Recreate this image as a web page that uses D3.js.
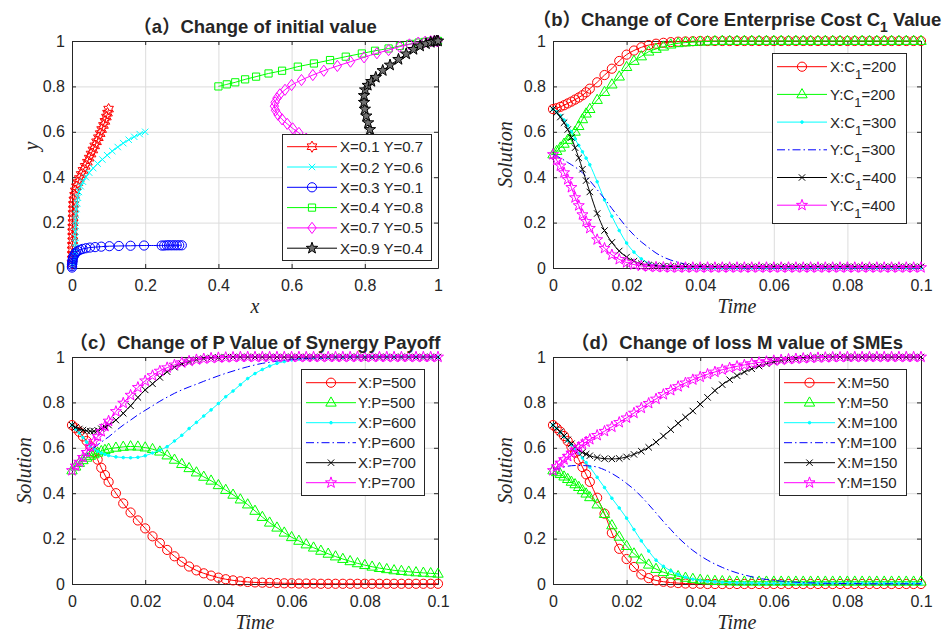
<!DOCTYPE html>
<html>
<head>
<meta charset="utf-8">
<script src="https://cdn.jsdelivr.net/npm/d3@7"></script>
<style>
  body { margin: 0; background: #fff; }
  svg text { font-family: "Liberation Sans", Arial, "Noto Sans CJK SC", sans-serif; fill: #262626; }
</style>
</head>
<body>
<svg id="chart" width="950" height="633"></svg>
<script>
// time samples shared by panels b, c, d
const time = [
  0, 0.001, 0.002, 0.003, 0.004, 0.005, 0.006, 0.007, 0.008, 0.009, 0.010,
  0.012, 0.014, 0.016, 0.018, 0.020, 0.022, 0.024, 0.026, 0.028, 0.030,
  0.032, 0.034, 0.036, 0.038, 0.040, 0.042, 0.044, 0.046, 0.048, 0.050,
  0.052, 0.054, 0.056, 0.058, 0.060, 0.062, 0.064, 0.066, 0.068, 0.070,
  0.072, 0.074, 0.076, 0.078, 0.080, 0.082, 0.084, 0.086, 0.088, 0.090,
  0.092, 0.094, 0.096, 0.098, 0.100];

const xTicksA = [0, 0.2, 0.4, 0.6, 0.8, 1];
const xTicksT = [0, 0.02, 0.04, 0.06, 0.08, 0.1];
const yTicks = [0, 0.2, 0.4, 0.6, 0.8, 1];

// (a) trajectories in the x-y plane
const aX1 = [0.100, 0.097, 0.094, 0.090, 0.086, 0.081, 0.077, 0.072, 0.067, 0.062, 0.057, 0.052, 0.047, 0.042, 0.036, 0.030, 0.025, 0.020, 0.016, 0.012, 0.009, 0.007, 0.005, 0.004, 0.004, 0.003, 0.003, 0.003, 0.002, 0.002, 0.002, 0.002, 0.001, 0.001, 0.001, 0.001, 0.000];
const aY1 = [0.700, 0.682, 0.665, 0.646, 0.628, 0.610, 0.592, 0.574, 0.556, 0.538, 0.520, 0.502, 0.484, 0.466, 0.448, 0.430, 0.412, 0.394, 0.376, 0.358, 0.340, 0.320, 0.300, 0.280, 0.260, 0.240, 0.220, 0.200, 0.180, 0.160, 0.140, 0.120, 0.100, 0.080, 0.060, 0.040, 0.020];
const aX2 = [0.200, 0.185, 0.170, 0.155, 0.140, 0.125, 0.110, 0.096, 0.083, 0.070, 0.058, 0.047, 0.038, 0.030, 0.024, 0.019, 0.016, 0.014, 0.012, 0.011, 0.010, 0.010, 0.009, 0.009, 0.009, 0.008, 0.008, 0.007, 0.006, 0.005, 0.004, 0.003];
const aY2 = [0.600, 0.590, 0.578, 0.565, 0.550, 0.533, 0.515, 0.497, 0.478, 0.460, 0.440, 0.420, 0.400, 0.380, 0.360, 0.335, 0.310, 0.285, 0.260, 0.235, 0.210, 0.185, 0.160, 0.135, 0.110, 0.090, 0.070, 0.055, 0.040, 0.030, 0.020, 0.010];
const aX3 = [0.300, 0.293, 0.286, 0.279, 0.272, 0.265, 0.259, 0.252, 0.245, 0.197, 0.160, 0.128, 0.102, 0.080, 0.063, 0.049, 0.038, 0.029, 0.022, 0.016, 0.011, 0.008, 0.005, 0.003, 0.002, 0.001, 0.001, 0.000, 0.000, 0.000];
const aY3 = [0.100, 0.100, 0.100, 0.100, 0.100, 0.100, 0.100, 0.099, 0.099, 0.099, 0.098, 0.097, 0.096, 0.094, 0.092, 0.090, 0.087, 0.084, 0.080, 0.075, 0.069, 0.062, 0.054, 0.046, 0.038, 0.030, 0.022, 0.015, 0.008, 0.002];
const aX4 = [0.400, 0.423, 0.446, 0.473, 0.503, 0.537, 0.574, 0.617, 0.661, 0.705, 0.748, 0.792, 0.828, 0.865, 0.896, 0.924, 0.947, 0.965, 0.978, 0.987, 0.993, 0.997, 0.999, 1.000];
const aY4 = [0.800, 0.809, 0.818, 0.831, 0.843, 0.857, 0.869, 0.887, 0.901, 0.916, 0.931, 0.945, 0.957, 0.967, 0.978, 0.987, 0.993, 0.996, 0.998, 0.999, 1.000, 1.000, 1.000, 1.000];
const aX5 = [0.700, 0.680, 0.660, 0.640, 0.620, 0.603, 0.588, 0.574, 0.563, 0.556, 0.553, 0.555, 0.560, 0.568, 0.582, 0.600, 0.627, 0.658, 0.688, 0.725, 0.761, 0.798, 0.833, 0.865, 0.895, 0.922, 0.946, 0.965, 0.980, 0.990, 0.996, 1.000];
const aY5 = [0.500, 0.520, 0.545, 0.570, 0.595, 0.615, 0.635, 0.655, 0.675, 0.695, 0.713, 0.730, 0.748, 0.765, 0.785, 0.806, 0.828, 0.850, 0.869, 0.890, 0.909, 0.928, 0.946, 0.960, 0.975, 0.985, 0.993, 0.997, 0.999, 1.000, 1.000, 1.000];
const aX6 = [0.900, 0.880, 0.862, 0.848, 0.836, 0.826, 0.820, 0.814, 0.809, 0.804, 0.800, 0.798, 0.798, 0.801, 0.808, 0.818, 0.830, 0.849, 0.869, 0.892, 0.913, 0.933, 0.951, 0.967, 0.980, 0.990, 0.996, 1.000];
const aY6 = [0.400, 0.430, 0.460, 0.490, 0.520, 0.550, 0.580, 0.610, 0.640, 0.670, 0.700, 0.730, 0.760, 0.785, 0.805, 0.822, 0.840, 0.870, 0.894, 0.919, 0.943, 0.963, 0.978, 0.988, 0.994, 0.998, 1.000, 1.000];
const aLabels = ["X=0.1 Y=0.7", "X=0.2 Y=0.6", "X=0.3 Y=0.1", "X=0.4 Y=0.8", "X=0.7 Y=0.5", "X=0.9 Y=0.4"];

// (b) core enterprise cost C1
const bX200 = [
  0.700, 0.704, 0.710, 0.717, 0.725, 0.733, 0.742, 0.751, 0.761, 0.774, 0.790,
  0.818, 0.850, 0.878, 0.912, 0.940, 0.958, 0.972, 0.982, 0.988, 0.992,
  0.995, 0.997, 0.998, 0.999, 1, 1, 1, 1, 1, 1,
  1, 1, 1, 1, 1, 1, 1, 1, 1, 1,
  1, 1, 1, 1, 1, 1, 1, 1, 1, 1,
  1, 1, 1, 1, 1];
const bY200 = [
  0.500, 0.515, 0.530, 0.547, 0.564, 0.582, 0.600, 0.625, 0.655, 0.680, 0.700,
  0.740, 0.775, 0.808, 0.843, 0.885, 0.912, 0.932, 0.953, 0.965, 0.975,
  0.984, 0.990, 0.993, 0.995, 0.997, 0.998, 0.999, 1, 1, 1,
  1, 1, 1, 1, 1, 1, 1, 1, 1, 1,
  1, 1, 1, 1, 1, 1, 1, 1, 1, 1,
  1, 1, 1, 1, 1];
const bX300 = [
  0.700, 0.688, 0.672, 0.652, 0.628, 0.600, 0.568, 0.540, 0.512, 0.484, 0.455,
  0.380, 0.300, 0.228, 0.165, 0.110, 0.070, 0.040, 0.022, 0.012, 0.007,
  0.004, 0.002, 0.001, 0, 0, 0, 0, 0, 0, 0,
  0, 0, 0, 0, 0, 0, 0, 0, 0, 0,
  0, 0, 0, 0, 0, 0, 0, 0, 0, 0,
  0, 0, 0, 0, 0];
const bY300 = [
  0.500, 0.493, 0.485, 0.475, 0.465, 0.455, 0.445, 0.433, 0.420, 0.403, 0.385,
  0.345, 0.305, 0.262, 0.220, 0.180, 0.145, 0.115, 0.090, 0.066, 0.048,
  0.035, 0.025, 0.017, 0.011, 0.007, 0.005, 0.003, 0.002, 0.001, 0,
  0, 0, 0, 0, 0, 0, 0, 0, 0, 0,
  0, 0, 0, 0, 0, 0, 0, 0, 0, 0,
  0, 0, 0, 0, 0];
const bX400 = [
  0.700, 0.685, 0.665, 0.640, 0.610, 0.575, 0.530, 0.485, 0.435, 0.385, 0.335,
  0.240, 0.165, 0.113, 0.075, 0.048, 0.030, 0.019, 0.013, 0.010, 0.008,
  0.007, 0.006, 0.006, 0.005, 0.005, 0.005, 0.005, 0.005, 0.005, 0.005,
  0.005, 0.005, 0.005, 0.005, 0.005, 0.005, 0.005, 0.005, 0.005, 0.005,
  0.005, 0.005, 0.005, 0.005, 0.005, 0.005, 0.005, 0.005, 0.005, 0.005,
  0.005, 0.005, 0.005, 0.005, 0.005];
const bY400 = [
  0.500, 0.475, 0.450, 0.420, 0.390, 0.355, 0.310, 0.275, 0.235, 0.205, 0.175,
  0.125, 0.087, 0.058, 0.038, 0.024, 0.015, 0.009, 0.006, 0.004, 0.003,
  0.002, 0.002, 0.002, 0.002, 0.002, 0.002, 0.002, 0.002, 0.002, 0.002,
  0.002, 0.002, 0.002, 0.002, 0.002, 0.002, 0.002, 0.002, 0.002, 0.002,
  0.002, 0.002, 0.002, 0.002, 0.002, 0.002, 0.002, 0.002, 0.002, 0.002,
  0.002, 0.002, 0.002, 0.002, 0.002];
const bLabels = ["X:C_1=200", "Y:C_1=200", "X:C_1=300", "Y:C_1=300", "X:C_1=400", "Y:C_1=400"];

// (c) synergy payoff P
const cX500 = [
  0.700, 0.686, 0.670, 0.650, 0.630, 0.607, 0.580, 0.548, 0.512, 0.480, 0.450,
  0.400, 0.355, 0.315, 0.280, 0.245, 0.210, 0.180, 0.150, 0.122, 0.098,
  0.077, 0.060, 0.047, 0.037, 0.028, 0.021, 0.016, 0.012, 0.009, 0.007,
  0.006, 0.005, 0.004, 0.003, 0.003, 0.002, 0.002, 0.002, 0.001, 0.001,
  0.001, 0.001, 0.001, 0.001, 0.001, 0.001, 0.001, 0.001, 0.001, 0.001,
  0.001, 0.001, 0.001, 0.001, 0.001];
const cY500 = [
  0.500, 0.517, 0.533, 0.545, 0.556, 0.564, 0.571, 0.578, 0.585, 0.590, 0.595,
  0.600, 0.604, 0.606, 0.605, 0.601, 0.594, 0.583, 0.566, 0.547, 0.528,
  0.510, 0.491, 0.472, 0.455, 0.435, 0.414, 0.393, 0.372, 0.350, 0.322,
  0.295, 0.270, 0.248, 0.226, 0.206, 0.190, 0.174, 0.160, 0.146, 0.133,
  0.121, 0.110, 0.100, 0.091, 0.083, 0.076, 0.070, 0.065, 0.060, 0.057,
  0.054, 0.051, 0.049, 0.047, 0.045];
const cX600 = [
  0.700, 0.682, 0.665, 0.645, 0.625, 0.608, 0.595, 0.585, 0.577, 0.571, 0.566,
  0.560, 0.557, 0.556, 0.558, 0.565, 0.577, 0.590, 0.605, 0.630, 0.655,
  0.685, 0.712, 0.740, 0.767, 0.795, 0.825, 0.850, 0.878, 0.905, 0.927,
  0.945, 0.960, 0.972, 0.980, 0.987, 0.991, 0.994, 0.996, 0.997, 0.998,
  0.999, 0.999, 1, 1, 1, 1, 1, 1, 1, 1,
  1, 1, 1, 1, 1];
const cY600 = [
  0.500, 0.520, 0.540, 0.557, 0.572, 0.587, 0.600, 0.613, 0.625, 0.637, 0.648,
  0.675, 0.700, 0.722, 0.745, 0.765, 0.785, 0.805, 0.823, 0.840, 0.855,
  0.868, 0.880, 0.893, 0.905, 0.917, 0.928, 0.938, 0.948, 0.957, 0.965,
  0.972, 0.977, 0.982, 0.986, 0.989, 0.991, 0.993, 0.995, 0.996, 0.997,
  0.998, 0.998, 0.999, 0.999, 1, 1, 1, 1, 1, 1,
  1, 1, 1, 1, 1];
const cX700 = [
  0.700, 0.690, 0.683, 0.678, 0.675, 0.673, 0.673, 0.677, 0.684, 0.692, 0.700,
  0.722, 0.752, 0.785, 0.822, 0.855, 0.882, 0.910, 0.935, 0.955, 0.970,
  0.980, 0.988, 0.993, 0.996, 0.998, 0.999, 1, 1, 1, 1,
  1, 1, 1, 1, 1, 1, 1, 1, 1, 1,
  1, 1, 1, 1, 1, 1, 1, 1, 1, 1,
  1, 1, 1, 1, 1];
const cY700 = [
  0.500, 0.520, 0.537, 0.558, 0.580, 0.605, 0.628, 0.650, 0.672, 0.695, 0.718,
  0.760, 0.797, 0.832, 0.866, 0.895, 0.918, 0.938, 0.953, 0.965, 0.975,
  0.982, 0.988, 0.992, 0.995, 0.997, 0.998, 0.999, 1, 1, 1,
  1, 1, 1, 1, 1, 1, 1, 1, 1, 1,
  1, 1, 1, 1, 1, 1, 1, 1, 1, 1,
  1, 1, 1, 1, 1];
const cLabels = ["X:P=500", "Y:P=500", "X:P=600", "Y:P=600", "X:P=700", "Y:P=700"];

// (d) SME loss M
const dX50 = [
  0.700, 0.687, 0.671, 0.652, 0.630, 0.605, 0.578, 0.548, 0.515, 0.483, 0.450,
  0.380, 0.310, 0.225, 0.155, 0.110, 0.075, 0.042, 0.026, 0.016, 0.010,
  0.006, 0.004, 0.002, 0.001, 0.001, 0, 0, 0, 0, 0,
  0, 0, 0, 0, 0, 0, 0, 0, 0, 0,
  0, 0, 0, 0, 0, 0, 0, 0, 0, 0,
  0, 0, 0, 0, 0];
const dY50 = [
  0.500, 0.492, 0.484, 0.473, 0.462, 0.450, 0.439, 0.427, 0.413, 0.398, 0.382,
  0.350, 0.308, 0.258, 0.208, 0.167, 0.134, 0.108, 0.085, 0.066, 0.052,
  0.042, 0.034, 0.027, 0.022, 0.018, 0.015, 0.013, 0.012, 0.011, 0.010,
  0.010, 0.010, 0.010, 0.010, 0.010, 0.010, 0.010, 0.010, 0.010, 0.010,
  0.010, 0.010, 0.010, 0.010, 0.010, 0.010, 0.010, 0.010, 0.010, 0.010,
  0.010, 0.010, 0.010, 0.010, 0.010];
const dX100 = [
  0.700, 0.685, 0.668, 0.650, 0.632, 0.614, 0.595, 0.575, 0.555, 0.535, 0.515,
  0.470, 0.425, 0.378, 0.335, 0.290, 0.240, 0.190, 0.145, 0.105, 0.078,
  0.058, 0.042, 0.030, 0.021, 0.015, 0.011, 0.009, 0.007, 0.006, 0.005,
  0.004, 0.004, 0.003, 0.003, 0.003, 0.003, 0.003, 0.003, 0.003, 0.003,
  0.003, 0.003, 0.003, 0.003, 0.003, 0.003, 0.003, 0.003, 0.003, 0.003,
  0.003, 0.003, 0.003, 0.003, 0.003];
const dY100 = [
  0.500, 0.507, 0.512, 0.516, 0.519, 0.521, 0.522, 0.522, 0.522, 0.521, 0.520,
  0.515, 0.503, 0.487, 0.467, 0.443, 0.417, 0.385, 0.350, 0.313, 0.275,
  0.240, 0.205, 0.175, 0.148, 0.125, 0.105, 0.088, 0.073, 0.060, 0.049,
  0.040, 0.032, 0.025, 0.020, 0.016, 0.013, 0.010, 0.008, 0.006, 0.005,
  0.004, 0.003, 0.003, 0.002, 0.002, 0.002, 0.001, 0.001, 0.001, 0.001,
  0.001, 0.001, 0.001, 0.001, 0.001];
const dX150 = [
  0.700, 0.685, 0.670, 0.652, 0.635, 0.618, 0.603, 0.590, 0.580, 0.572, 0.565,
  0.557, 0.552, 0.551, 0.553, 0.560, 0.571, 0.585, 0.602, 0.625, 0.652,
  0.680, 0.708, 0.735, 0.762, 0.792, 0.822, 0.852, 0.878, 0.900, 0.918,
  0.934, 0.948, 0.960, 0.970, 0.978, 0.985, 0.989, 0.992, 0.995, 0.997,
  0.998, 0.999, 1, 1, 1, 1, 1, 1, 1, 1,
  1, 1, 1, 1, 1];
const dY150 = [
  0.500, 0.517, 0.533, 0.548, 0.563, 0.577, 0.590, 0.603, 0.615, 0.626, 0.637,
  0.655, 0.673, 0.692, 0.712, 0.732, 0.753, 0.775, 0.796, 0.815, 0.835,
  0.853, 0.870, 0.886, 0.900, 0.912, 0.924, 0.934, 0.944, 0.952, 0.959,
  0.965, 0.971, 0.976, 0.980, 0.984, 0.987, 0.990, 0.992, 0.994, 0.996,
  0.997, 0.998, 0.999, 0.999, 1, 1, 1, 1, 1, 1,
  1, 1, 1, 1, 1];
const dLabels = ["X:M=50", "Y:M=50", "X:M=100", "Y:M=100", "X:M=150", "Y:M=150"];

const RED = "#ff0000", GREEN = "#00ff00", CYAN = "#00ffff", BLUE = "#0000ff", BLACK = "#000000", MAGENTA = "#ff00ff";
const AXIS = "#262626";

function starPath(n, ro, ri) {
  const pts = [];
  for (let k = 0; k < 2 * n; k++) {
    const a = -Math.PI / 2 + k * Math.PI / n;
    const r = k % 2 ? ri : ro;
    pts.push([(r * Math.cos(a)).toFixed(2), (r * Math.sin(a)).toFixed(2)]);
  }
  return "M" + pts.join("L") + "Z";
}

const markers = {
  o: { d: d3.symbol(d3.symbolCircle, Math.PI * 4.6 * 4.6)(), fill: "none" },
  tri: { d: "M0,-5.8L5.2,3.4L-5.2,3.4Z", fill: "none" },
  dot: { d: d3.symbol(d3.symbolCircle, Math.PI * 1.3 * 1.3)(), fill: "cur" },
  x: { d: "M-3.2,-3.2L3.2,3.2M-3.2,3.2L3.2,-3.2", fill: "none" },
  p: { d: starPath(5, 5.8, 2.3), fill: "none" },
  pf: { d: starPath(5, 6, 2.4), fill: "#707070" },
  h: { d: starPath(6, 5.6, 3.2), fill: "none" },
  s: { d: "M-3.6,-3.6H3.6V3.6H-3.6Z", fill: "none" },
  d: { d: "M0,-5.6L4.2,0L0,5.6L-4.2,0Z", fill: "none" }
};

function timeSeries(vals, labels) {
  const styles = [
    { color: RED, marker: "o" },
    { color: GREEN, marker: "tri" },
    { color: CYAN, marker: "dot" },
    { color: BLUE, marker: null, dash: "8,3,1.5,3" },
    { color: BLACK, marker: "x" },
    { color: MAGENTA, marker: "p" }
  ];
  return vals.map((v, i) => Object.assign({ xs: time, ys: v, label: labels[i] }, styles[i]));
}

const panels = [
  {
    left: 72, top: 41, width: 366, height: 227, xTicks: xTicksA,
    title: "（a）Change of initial value", titleY: 33,
    xLabel: "x", yLabel: "y", yLabelX: 38, yLabelY: 146, phase: true,
    legend: { x: 282, y: 134, w: 149, h: 126, row0: 146.7, step: 20.3, l1: 287, l2: 337, tx: 340 },
    series: [
      { xs: aX1, ys: aY1, color: RED, marker: "h", label: aLabels[0] },
      { xs: aX2, ys: aY2, color: CYAN, marker: "x", label: aLabels[1] },
      { xs: aX3, ys: aY3, color: BLUE, marker: "o", label: aLabels[2] },
      { xs: aX4, ys: aY4, color: GREEN, marker: "s", label: aLabels[3] },
      { xs: aX5, ys: aY5, color: MAGENTA, marker: "d", label: aLabels[4] },
      { xs: aX6, ys: aY6, color: BLACK, marker: "pf", label: aLabels[5] }
    ]
  },
  {
    left: 553, top: 41, width: 368, height: 227, xTicks: xTicksT,
    title: "（b）Change of Core Enterprise Cost C_1 Value", titleY: 26,
    xLabel: "Time", yLabel: "Solution", yLabelX: 512, yLabelY: 154.5,
    legend: { x: 772, y: 53, w: 134, h: 170, row0: 66.7, step: 27.7, l1: 777, l2: 827, tx: 830 },
    series: timeSeries([bX200, bY200, bX300, bY300, bX400, bY400], bLabels)
  },
  {
    left: 72, top: 357, width: 366, height: 227, xTicks: xTicksT,
    title: "（c）Change of P Value of Synergy Payoff", titleY: 349,
    xLabel: "Time", yLabel: "Solution", yLabelX: 31, yLabelY: 470.5,
    legend: { x: 301, y: 369, w: 123, h: 126, row0: 382.7, step: 20, l1: 306, l2: 356, tx: 358 },
    series: timeSeries([cX500, cY500, cX600, cY600, cX700, cY700], cLabels)
  },
  {
    left: 553, top: 357, width: 368, height: 227, xTicks: xTicksT,
    title: "（d）Change of loss M value of SMEs", titleY: 349,
    xLabel: "Time", yLabel: "Solution", yLabelX: 512, yLabelY: 470.5,
    legend: { x: 779, y: 369, w: 127, h: 126, row0: 382.7, step: 20, l1: 784, l2: 835, tx: 837 },
    series: timeSeries([dX50, dY50, dX100, dY100, dX150, dY150], dLabels)
  }
];

const svg = d3.select("#chart");

// text with an optional "_1" style subscript
function richText(sel, str, subSize, shift) {
  const parts = str.split("_");
  sel.append("tspan").text(parts[0]);
  if (parts.length > 1) {
    sel.append("tspan").attr("dy", shift).attr("font-size", subSize).text(parts[1][0]);
    sel.append("tspan").attr("dy", -shift).text(parts[1].slice(1));
  }
}

function drawMarker(sel, s, pts) {
  const m = markers[s.marker];
  sel.selectAll("path.mk")
    .data(pts)
    .join("path")
    .attr("class", "mk")
    .attr("d", m.d)
    .attr("transform", d => `translate(${d[0]},${d[1]})`)
    .attr("fill", m.fill === "cur" ? s.color : m.fill)
    .attr("stroke", s.color)
    .attr("stroke-width", 1);
}

panels.forEach(p => {
  const bottom = p.top + p.height, right = p.left + p.width;
  const x = d3.scaleLinear().domain([p.xTicks[0], p.xTicks[p.xTicks.length - 1]]).range([p.left, right]);
  const y = d3.scaleLinear().domain([0, 1]).range([bottom, p.top]);
  const g = svg.append("g");

  // grid
  g.append("g")
    .attr("transform", `translate(0,${bottom})`)
    .call(d3.axisBottom(x).tickValues(p.xTicks).tickSize(-p.height).tickFormat(""))
    .call(s => { s.select(".domain").remove(); s.selectAll("line").attr("stroke", "#dcdcdc"); });
  g.append("g")
    .attr("transform", `translate(${p.left},0)`)
    .call(d3.axisLeft(y).tickValues(yTicks).tickSize(-p.width).tickFormat(""))
    .call(s => { s.select(".domain").remove(); s.selectAll("line").attr("stroke", "#dcdcdc"); });

  // axes box with inward ticks
  const fmt = d3.format("~g");
  const styleAxis = s => {
    s.attr("font-size", null).attr("font-family", null);
    s.select(".domain").attr("stroke", AXIS);
    s.selectAll("line").attr("stroke", AXIS);
    s.selectAll("text").attr("font-size", 16).attr("fill", AXIS);
  };
  g.append("g").attr("transform", `translate(0,${bottom})`)
    .call(d3.axisBottom(x).tickValues(p.xTicks).tickSizeInner(-4).tickSizeOuter(0).tickPadding(12).tickFormat(fmt))
    .call(styleAxis);
  g.append("g").attr("transform", `translate(0,${p.top})`)
    .call(d3.axisTop(x).tickValues(p.xTicks).tickSizeInner(-4).tickSizeOuter(0).tickFormat(""))
    .call(styleAxis);
  g.append("g").attr("transform", `translate(${p.left},0)`)
    .call(d3.axisLeft(y).tickValues(yTicks).tickSizeInner(-4).tickSizeOuter(0).tickPadding(7).tickFormat(fmt))
    .call(styleAxis);
  g.append("g").attr("transform", `translate(${right},0)`)
    .call(d3.axisRight(y).tickValues(yTicks).tickSizeInner(-4).tickSizeOuter(0).tickFormat(""))
    .call(styleAxis);

  // series
  const line = d3.line()
    .x(d => d[0]).y(d => d[1])
    .curve(p.phase ? d3.curveCatmullRom : d3.curveMonotoneX);
  p.series.forEach(s => {
    const pts = s.xs.map((v, i) => [x(v), y(s.ys[i])]);
    const sg = g.append("g");
    sg.append("path")
      .attr("d", line(pts))
      .attr("fill", "none")
      .attr("stroke", s.color)
      .attr("stroke-width", 1)
      .attr("stroke-dasharray", s.dash || null);
    if (s.marker) drawMarker(sg, s, pts);
  });

  // title
  const t = g.append("text")
    .attr("x", (p.left + right) / 2).attr("y", p.titleY)
    .attr("text-anchor", "middle")
    .attr("font-size", 18.5).attr("font-weight", "bold").attr("fill", "#000");
  richText(t, p.title, 14, 6);

  // axis labels
  g.append("text")
    .attr("x", (p.left + right) / 2).attr("y", bottom + 45)
    .attr("text-anchor", "middle")
    .style("font-family", "'Liberation Serif', 'DejaVu Serif', serif")
    .style("font-style", "italic")
    .attr("font-size", 20).attr("fill", "#404040")
    .text(p.xLabel);
  g.append("text")
    .attr("transform", `translate(${p.yLabelX},${p.yLabelY}) rotate(-90)`)
    .attr("text-anchor", "middle")
    .style("font-family", "'Liberation Serif', 'DejaVu Serif', serif")
    .style("font-style", "italic")
    .attr("font-size", 20).attr("fill", "#404040")
    .text(p.yLabel);

  // legend
  const L = p.legend;
  const lg = g.append("g");
  lg.append("rect")
    .attr("x", L.x + 0.5).attr("y", L.y + 0.5)
    .attr("width", L.w).attr("height", L.h)
    .attr("fill", "#fff").attr("stroke", AXIS).attr("stroke-width", 1);
  p.series.forEach((s, i) => {
    const ry = L.row0 + i * L.step;
    const row = lg.append("g");
    row.append("line")
      .attr("x1", L.l1).attr("x2", L.l2).attr("y1", ry).attr("y2", ry)
      .attr("stroke", s.color).attr("stroke-width", 1)
      .attr("stroke-dasharray", s.dash || null);
    if (s.marker) drawMarker(row, s, [[(L.l1 + L.l2) / 2, ry]]);
    const tx = row.append("text")
      .attr("x", L.tx).attr("y", ry + 5.5)
      .attr("font-size", 15).attr("fill", "#000");
    richText(tx, s.label, 13, 7);
  });
});
</script>
</body>
</html>
